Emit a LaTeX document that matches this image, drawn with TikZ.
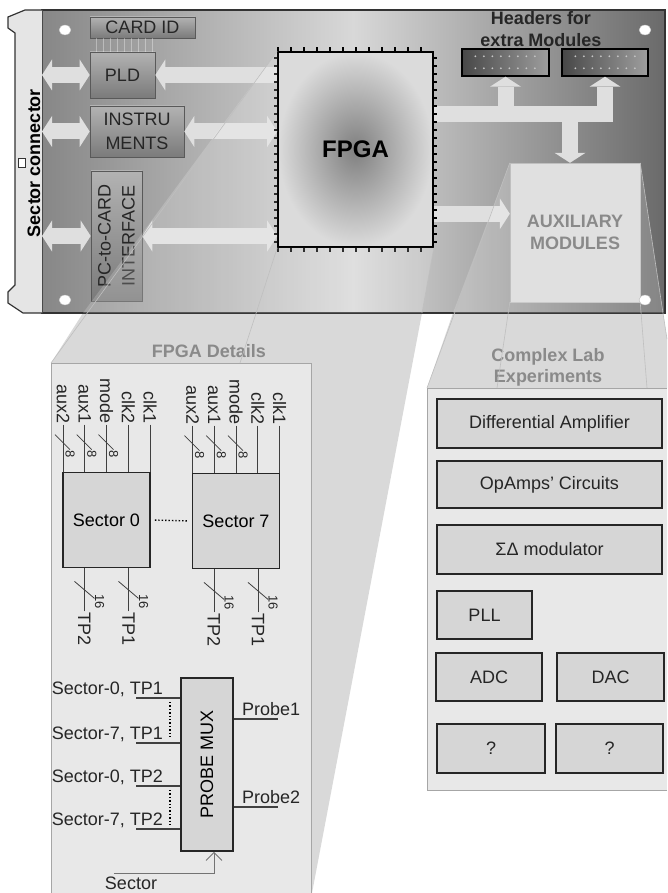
\documentclass[tikz,border=0pt]{standalone}
\usepackage{fontspec}
\setmainfont{Liberation Sans}
\usetikzlibrary{arrows.meta,calc}
\definecolor{brdL}{HTML}{878787}
\definecolor{brdM}{HTML}{D8D8D8}
\definecolor{brdR}{HTML}{6A6A6A}
\definecolor{arrowgray}{HTML}{DFDFDF}
\definecolor{wedgegray}{HTML}{D9D9D9}
\definecolor{panelgray}{HTML}{E8E8E8}
\definecolor{boxgray}{HTML}{D6D6D6}
\definecolor{txtgray}{HTML}{8A8A8A}
\tikzset{bigtip/.tip={Triangle[length=10pt,width=31pt,line width=0pt]}}

\begin{document}
\begin{tikzpicture}[x=1pt, y=-1pt,
  every node/.style={font=\fontsize{18}{21}\selectfont, inner sep=1pt},
  chip/.style={draw=black!65, line width=0.6pt, top color=black!30, bottom color=black!52, text=black!85, align=center, font=\fontsize{18}{24}\selectfont},
  barrow/.style={draw=arrowgray, line width=16pt, -bigtip},
  dbarrow/.style={draw=arrowgray, line width=16pt, bigtip-bigtip},
  glassy/.style={fill=white, fill opacity=0.18},
  projline/.style={draw=black!25, line width=0.6pt},
  secbox/.style={draw=black!85, line width=1.8pt, fill=boxgray, minimum width=87, minimum height=95},
  labbox/.style={draw=black!85, line width=1.8pt, fill=boxgray, text=black!85},
  wire/.style={draw=black!75, line width=0.8pt},
  vlab/.style={rotate=-90, text=black!85},
  buslab/.style={rotate=-90, text=black!85, font=\fontsize{13}{14}\selectfont},
  pin/.style={line width=1.2pt}]
\useasboundingbox (0,0) rectangle (667,893);

\fill[wedgegray] (83,313) -- (51,363) -- (51,893) -- (312,893) -- (422,313) -- cycle;
\fill[panelgray] (51,363) rectangle (311,893);
\draw[black!35] (51,893) -- (51,363) -- (311,363) -- (311,893);
\node[text=txtgray, font=\fontsize{18}{21}\selectfont\bfseries] (fdtitle) at (209,351) {FPGA Details};
\fill[wedgegray] (453,313) -- (427,388) -- (667,388) -- (667,339) -- (663,313) -- cycle;
\fill[panelgray] (427,388) rectangle (667,790);
\draw[black!35] (667,388) -- (427,388) -- (427,790) -- (667,790);
\node[text=txtgray, font=\fontsize{18}{21}\selectfont\bfseries, align=center] (labtitle) at (548,367) {Complex Lab\\Experiments};

\shade[left color=brdL, right color=brdR, middle color=brdM] (42,10) rectangle (665,313);
\draw[black!80, line width=1.2pt] (42,10) rectangle (665,313);
\draw[fill=black!10, draw=black!80, line width=1.2pt] (42,10) -- (25,10) -- (8,17) -- (8,28) -- (15,33) -- (15,285) -- (8,292) -- (8,303) -- (23,313) -- (42,313);
\draw[fill=white, draw=black!80] (18,158) rectangle (25,167);
\node[rotate=90, font=\fontsize{18}{21}\selectfont\bfseries] (conntxt) at (34,163) {Sector connector};
\coordinate (conn) at (42,0);

\node[chip, minimum width=105, minimum height=21] (cardid) at (142.5,27.5) {CARD ID};
\node[chip, minimum width=65, minimum height=46] (pld) at (122.5,75) {PLD};
\node[chip, minimum width=94, minimum height=51] (instr) at (137,131.5) {INSTRU\\MENTS};
\node[chip, rotate=90, minimum width=130, minimum height=51] (pcif) at (116.5,236) {PC-to-CARD\\INTERFACE};
\foreach \dx in {7,14,...,63}
  \draw[white, opacity=0.35, line width=0.5pt] ($(cardid.south west)+(\dx,0)$) -- ($(pld.north west)+(\dx,0)$);

\node[draw=black, line width=1.6pt, inner color=black!50, outer color=black!14, minimum width=155, minimum height=195, font=\fontsize{24}{28}\selectfont\bfseries] (fpga) at (355.5,149.5) {FPGA};
\node[fill=black!12, draw=black!25, minimum width=130, minimum height=139, text=txtgray, align=center, font=\fontsize{18}{22}\selectfont\bfseries] (aux) at (575,232.5) {AUXILIARY\\MODULES};
\node[draw=black, line width=1.4pt, left color=black!72, right color=black!38, minimum width=87, minimum height=27] (hdrA) at (505.5,62.5) {};
\node[draw=black, line width=1.4pt, left color=black!72, right color=black!38, minimum width=86, minimum height=27] (hdrB) at (605,62.5) {};
\foreach \h in {hdrA,hdrB}
  \foreach \i in {0,...,7} {
    \fill[black!22] ($(\h.north west)+({14+8.5*\i},8)$) circle (1);
    \fill[black!22] ($(\h.north west)+({14+8.5*\i},20)$) circle (1);
  }
\node[font=\fontsize{18}{22}\selectfont\bfseries, align=center, text=black!85] (hdrtxt) at (541,29) {Headers for\\extra Modules};

\draw[dbarrow] (pld.west -| conn) -- (pld.west);
\draw[dbarrow] (instr.west -| conn) -- (instr.west);
\draw[dbarrow] (pcif.north -| conn) -- (pcif.north);
\draw[barrow] (fpga.west |- pld.east) -- (pld.east);
\draw[dbarrow] (fpga.west |- instr.east) -- (instr.east);
\draw[dbarrow] (fpga.west |- pcif.south) -- (pcif.south);

\coordinate (busL) at ($(fpga.north east)+(0,63)$);
\coordinate (auxin) at ($(aux.north)+(-5,0)$);
\coordinate (auxsig) at ($(fpga.south east)+(0,-34)$);
\draw[barrow, line join=miter] (busL) -- (busL -| hdrB.south) -- (hdrB.south);
\draw[barrow] (busL -| hdrA.south) -- (hdrA.south);
\draw[barrow] (busL -| auxin) -- (auxin);
\draw[barrow] (auxsig) -- (auxsig -| aux.west);

\foreach \tx in {278,291,...,433} {
  \draw[pin] (\tx,52) -- (\tx,47);
  \draw[pin] (\tx,247) -- (\tx,252);
}
\foreach \ty in {58,66,...,244} {
  \draw[pin] (278,\ty) -- (274,\ty);
  \draw[pin] (433,\ty) -- (437,\ty);
}

\fill[glassy] (fpga.north west) -- (83,313) -- (422,313) -- (fpga.south east) -- (fpga.south west) -- cycle;
\fill[glassy] (aux.north west) -- (453,313) -- (663,313) -- (aux.north east) -- (aux.south east) -- (aux.south west) -- cycle;
\draw[projline] (fpga.north west) -- (51,363);
\draw[projline] (fpga.south west) -- (240,363);
\draw[projline] (fpga.south east) -- (422,313);
\draw[projline] (aux.north west) -- (427,388);
\draw[projline] (aux.north east) -- (663,313) -- (667,339);
\draw[projline] (aux.south west) -- (497,388);
\draw[projline] (aux.south east) -- (647,388);

\foreach \hx/\hy in {65/30,65/300,645/30,645/300}
  \filldraw[fill=white, draw=black!30] (\hx,\hy) ellipse (6 and 5);

\node[secbox] (s0) at (106.5,520) {Sector 0};
\node[secbox] (s7) at (236,521) {Sector 7};
\draw[dotted, line width=1.4pt, shorten <=4pt, shorten >=4pt] (s0.east) -- (s7.west);
\foreach \s in {s0,s7} {
  \foreach \dx/\lab in {-43.5/aux2, -21.75/aux1, 0/mode, 21.75/clk2, 43.5/clk1} {
    \node[vlab, anchor=east] (\s-\lab) at ($(\s.north)+(\dx,-47)$) {\lab};
    \draw[wire] (\s-\lab.east) -- (\s-\lab.east |- \s.north);
  }
  \foreach \lab in {aux2,aux1,mode} {
    \draw[wire] ($(\s-\lab.east)+(-8,10)$) -- ++(15,15);
    \node[buslab] (\s-\lab-w) at ($(\s-\lab.east)+(7,30)$) {8};
  }
  \foreach \dx/\lab in {-22/TP2, 22/TP1} {
    \node[vlab, anchor=west] (\s-\lab) at ($(\s.south)+(\dx,43)$) {\lab};
    \draw[wire] (\s-\lab.west) -- (\s-\lab.west |- \s.south);
    \draw[wire] ($(\s-\lab.west)+(-10,-30)$) -- ++(20,17);
    \node[buslab] (\s-\lab-w) at ($(\s-\lab.west)+(15,-10)$) {16};
  }
}

\node[secbox, minimum width=52, minimum height=173] (mux) at (207,764.5) {\rotatebox{90}{PROBE MUX}};
\foreach \i/\ty/\lab in {1/-66.5/{Sector-0, TP1}, 2/-21.5/{Sector-7, TP1}, 3/21.5/{Sector-0, TP2}, 4/64.5/{Sector-7, TP2}} {
  \coordinate (in\i) at ($(mux.west)+(-44,\ty)$);
  \draw[wire, line width=1.6pt] (in\i) -- (in\i -| mux.west);
  \node[anchor=south east, text=black!85] (in\i-txt) at ($(in\i)+(28,0)$) {\lab};
}
\draw[dotted, line width=1.4pt] ($(in1)+(34,4)$) -- ($(in2)+(34,-4)$);
\draw[dotted, line width=1.4pt] ($(in3)+(34,4)$) -- ($(in4)+(34,-4)$);
\foreach \i/\ty in {1/-45.5, 2/42.5} {
  \coordinate (pr\i) at ($(mux.east)+(44,\ty)$);
  \draw[wire, line width=1.6pt] (pr\i -| mux.east) -- (pr\i);
  \node[anchor=south west, text=black!85] (pr\i-txt) at ($(pr\i -| mux.east)+(7,-2)$) {Probe\i};
}
\node[text=black!85] (secsel) at (131,883) {Sector};
\draw[draw=black!55, line width=0.8pt, -{Straight Barb[length=8pt,width=16pt]}] ($(secsel.north west)+(10,-2)$) -| ($(mux.south)+(7,0)$);

\node[labbox, minimum width=225, minimum height=49] (dif) at (549.5,423.5) {Differential Amplifier};
\node[labbox, minimum width=225, minimum height=47] (opa) at (549.5,484.5) {OpAmps' Circuits};
\node[labbox, minimum width=225, minimum height=49] (sdm) at (549.5,549.5) {ΣΔ modulator};
\node[labbox, minimum width=95, minimum height=48] (pll) at (484.5,615) {PLL};
\node[labbox, minimum width=106, minimum height=48] (adc) at (489,677) {ADC};
\node[labbox, minimum width=107, minimum height=48] (dac) at (610.5,677) {DAC};
\node[labbox, minimum width=108, minimum height=49] (q1) at (491,748.5) {?};
\node[labbox, minimum width=107, minimum height=49] (q2) at (609.5,748.5) {?};
\end{tikzpicture}
\end{document}
